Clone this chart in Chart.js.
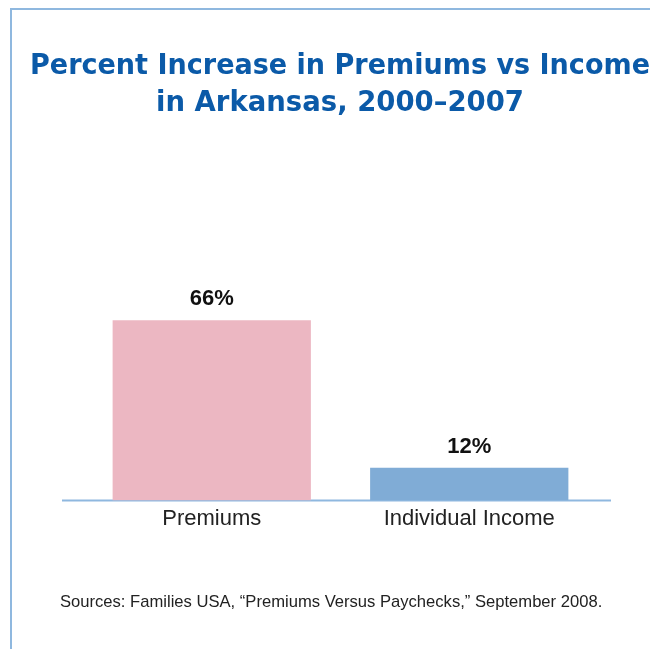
<!DOCTYPE html>
<html>
<head>
<meta charset="utf-8">
<script src="https://cdn.jsdelivr.net/npm/chart.js@4"></script>
<style>
    html, body { margin: 0; padding: 0; background: #fff; }
    body { width: 650px; height: 649px; position: relative; overflow: hidden; font-family: "Liberation Sans", Arial, sans-serif; }
    .marco { position: absolute; left: 10px; top: 8px; right: -4px; bottom: -4px; border-top: 2px solid #8fb8df; border-left: 2px solid #8fb8df; }
    .grafico { position: absolute; left: 0; top: 0; width: 650px; height: 649px; }
    .fonte { position: absolute; left: 60px; top: 592px; font-size: 16.6px; color: #222; white-space: nowrap; }
</style>
</head>
<body>
<div class="marco"></div>
<div class="grafico"><canvas id="graficoAumento"></canvas></div>
<div class="fonte">Sources: Families USA, “Premiums Versus Paychecks,” September 2008.</div>
<script>
const categorias = ['Premiums', 'Individual Income'];
const percentuais = [66, 12];
const coresBarras = ['#ecb7c2', '#80acd6'];
const titulo = ['Percent Increase in Premiums vs Income', 'in Arkansas, 2000–2007'];

const linhaBase = {
    id: 'linhaBase',
    beforeDatasetsDraw(chart) {
        const { ctx, chartArea } = chart;
        ctx.save();
        ctx.strokeStyle = '#8fb8df';
        ctx.lineWidth = 2;
        ctx.beginPath();
        ctx.moveTo(chartArea.left - 21, chartArea.bottom);
        ctx.lineTo(chartArea.right + 13, chartArea.bottom);
        ctx.stroke();
        ctx.restore();
    },
};

const rotulosValor = {
    id: 'rotulosValor',
    afterDatasetsDraw(chart) {
        const { ctx } = chart;
        const meta = chart.getDatasetMeta(0);
        ctx.save();
        ctx.fillStyle = '#111';
        ctx.font = 'bold 22px "Liberation Sans", Arial, sans-serif';
        ctx.textAlign = 'center';
        ctx.textBaseline = 'alphabetic';
        meta.data.forEach((barra, i) => {
            ctx.fillText(`${percentuais[i]}%`, barra.x, barra.y - 15);
        });
        ctx.restore();
    },
};

// eixos invisiveis so para reservar as margens da area do grafico
const margem = largura => ({
    display: true,
    grid: { display: false, drawTicks: false },
    border: { display: false },
    ticks: { display: false },
    afterFit: escala => { escala.width = largura; },
});

new Chart(document.getElementById('graficoAumento'), {
    type: 'bar',
    data: {
        labels: categorias,
        datasets: [{
            data: percentuais,
            backgroundColor: coresBarras,
            borderWidth: 0,
            barPercentage: 0.77,
            categoryPercentage: 1,
            yAxisID: 'y',
        }],
    },
    options: {
        responsive: true,
        maintainAspectRatio: false,
        animation: false,
        layout: { padding: { left: 30, right: 0, bottom: 112 } },
        plugins: {
            legend: { display: false },
            tooltip: { enabled: false },
            title: {
                display: true,
                text: titulo,
                color: '#0b5aa8',
                font: { family: '"DejaVu Sans", sans-serif', size: 27.5, weight: 'bold', lineHeight: 1.36 },
                padding: { top: 48, bottom: 104.5 },
            },
        },
        scales: {
            x: {
                grid: { display: false, drawTicks: false },
                border: { display: false },
                ticks: {
                    color: '#222',
                    padding: 5,
                    font: { family: '"Liberation Sans", Arial, sans-serif', size: 22 },
                },
            },
            y: { ...margem(53), position: 'left', min: 0, max: 100 },
            margemDireita: { ...margem(52), position: 'right', min: 0, max: 100 },
        },
    },
    plugins: [linhaBase, rotulosValor],
});
</script>
</body>
</html>
